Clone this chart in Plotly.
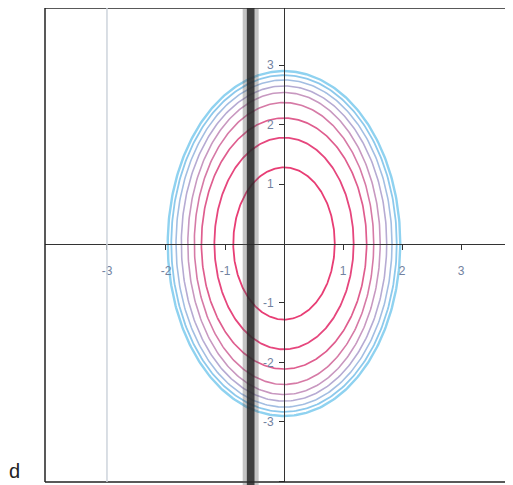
import numpy as np
import plotly.graph_objects as go

# Semi-axes of each contour, inner to outer
semi_x = [0.86, 1.18, 1.40, 1.52, 1.63, 1.74, 1.83, 1.91, 1.97]
semi_y = [1.28, 1.78, 2.11, 2.37, 2.54, 2.65, 2.75, 2.83, 2.90]
colors = ["#e83d74", "#e6467d", "#df5d8e", "#d67aa6", "#c898c0",
          "#b6abd3", "#a3bee2", "#8dc9ec", "#8fd2f0"]
widths = [1.8, 1.8, 1.7, 1.6, 1.6, 1.6, 1.6, 1.8, 2.4]

x_ticks = [-3, -2, -1, 1, 2, 3]
y_ticks = [-4, -3, -2, -1, 1, 2, 3]

x_range = [-4.05, 3.88]
y_range = [-4.01, 3.96]

theta = np.linspace(0, 2 * np.pi, 361)
fig = go.Figure()
for a, b, c, w in zip(semi_x, semi_y, colors, widths):
    fig.add_trace(go.Scatter(x=a * np.cos(theta), y=b * np.sin(theta), mode="lines",
                             line=dict(color=c, width=w), hoverinfo="skip",
                             showlegend=False))

axis_common = dict(showgrid=False, zeroline=False, showline=True, linecolor="#333",
                   linewidth=1, ticks="outside", ticklen=5, tickcolor="#333",
                   tickfont=dict(family="Liberation Sans, Arial", size=12, color="#7282a0"),
                   anchor="free", fixedrange=True)

fig.update_layout(
    width=505, height=477,
    margin=dict(l=37, r=0, t=0, b=3),
    paper_bgcolor="white", plot_bgcolor="white",
    xaxis=dict(range=x_range, tickvals=x_ticks, ticktext=[str(v) for v in x_ticks],
               position=(0 - y_range[0]) / (y_range[1] - y_range[0]),
               ticklabelstandoff=11, **axis_common),
    yaxis=dict(range=y_range, tickvals=y_ticks, ticktext=[str(v) for v in y_ticks],
               position=(0 - x_range[0]) / (x_range[1] - x_range[0]),
               ticklabelstandoff=3, **axis_common),
    shapes=[
        # frame
        dict(type="line", xref="paper", yref="paper", x0=0, x1=0, y0=0, y1=1,
             line=dict(color="#222", width=1.5)),
        dict(type="line", xref="paper", yref="paper", x0=0, x1=1.02, y0=1, y1=1,
             line=dict(color="#222", width=1.5)),
        dict(type="line", xref="paper", yref="paper", x0=0, x1=1.02, y0=0, y1=0,
             line=dict(color="#222", width=1.5)),
        # faint vertical line (scan)
        dict(type="line", xref="x", yref="paper", x0=-3, x1=-3, y0=0, y1=1.02,
             line=dict(color="#cdd4dc", width=1.5)),
        # binding shadow (scan)
        dict(type="rect", xref="x", yref="paper", x0=-0.70, x1=-0.43, y0=-0.02, y1=1.02,
             fillcolor="rgba(90,90,90,0.35)", line=dict(width=0)),
        dict(type="rect", xref="x", yref="paper", x0=-0.63, x1=-0.50, y0=-0.02, y1=1.02,
             fillcolor="rgba(40,40,40,0.85)", line=dict(width=0)),
    ],
    annotations=[dict(text="d", xref="paper", yref="paper", x=-0.066, y=-0.005,
                      xanchor="center", yanchor="bottom", showarrow=False,
                      font=dict(family="Liberation Sans, Arial", size=20, color="#222"))],
)

fig.write_html("out.html")
